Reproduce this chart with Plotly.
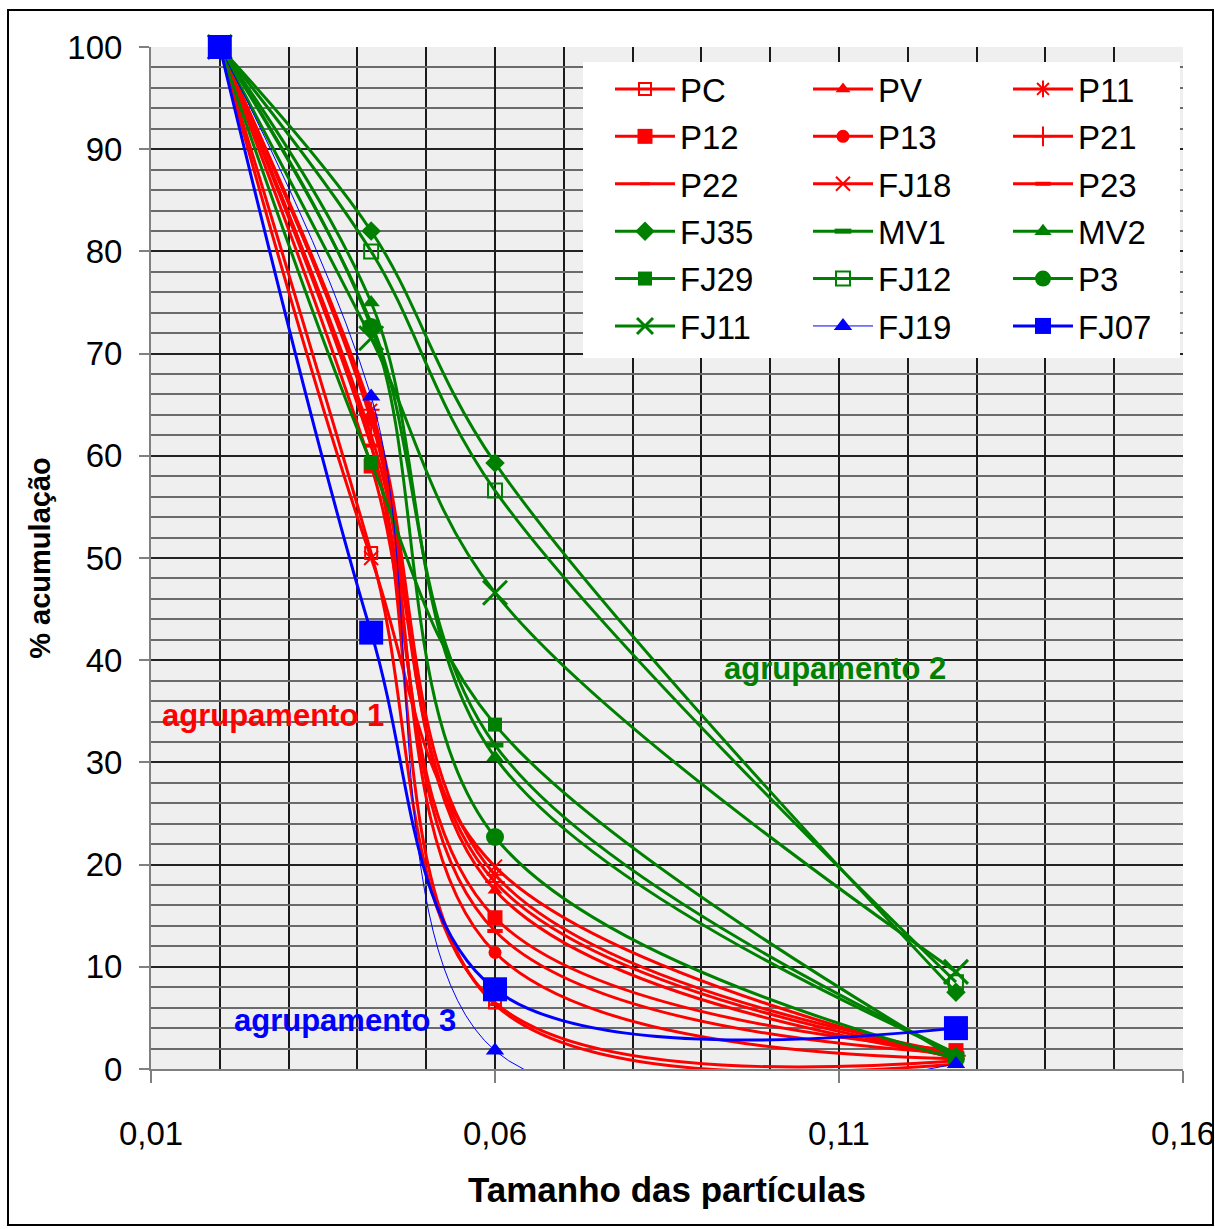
import plotly.graph_objects as go

# ---- data ----
x_sizes = [0.02, 0.042, 0.06, 0.127]

names = ["PC", "PV", "P11", "P12", "P13", "P21", "P22", "FJ18", "P23",
         "FJ35", "MV1", "MV2", "FJ29", "FJ12", "P3", "FJ11", "FJ19", "FJ07"]

PC = [100, 50.5, 6.5, 0.8]
PV = [100, 64.0, 17.5, 1.2]
P11 = [100, 64.5, 19.0, 1.5]
P12 = [100, 59.0, 14.8, 1.8]
P13 = [100, 63.5, 11.4, 1.0]
P21 = [100, 62.0, 18.3, 1.3]
P22 = [100, 61.0, 6.3, 0.5]
FJ18 = [100, 50.0, 19.8, 1.0]
P23 = [100, 61.0, 13.5, 1.5]
FJ35 = [100, 82.0, 59.3, 7.5]
MV1 = [100, 73.0, 31.7, 1.5]
MV2 = [100, 75.0, 30.5, 1.5]
FJ29 = [100, 59.3, 33.7, 1.0]
FJ12 = [100, 80.0, 56.6, 8.5]
P3 = [100, 72.6, 22.7, 1.0]
FJ11 = [100, 71.5, 46.6, 9.5]
FJ19 = [100, 65.8, 1.8, 0.5]
FJ07 = [100, 42.7, 7.8, 4.0]

values = [PC, PV, P11, P12, P13, P21, P22, FJ18, P23,
          FJ35, MV1, MV2, FJ29, FJ12, P3, FJ11, FJ19, FJ07]

x_ticks = [0.01, 0.06, 0.11, 0.16]
x_tick_labels = ["0,01", "0,06", "0,11", "0,16"]

# ---- styles ----
RED, GREEN, BLUE = "#ff0000", "#008000", "#0000ff"
styles = {
    "PC":   dict(color=RED, symbol="square-open", size=12, lw=3, mlw=2),
    "PV":   dict(color=RED, symbol="triangle-up", size=13, lw=3, mlw=0),
    "P11":  dict(color=RED, symbol="asterisk-open", size=14, lw=3, mlw=2),
    "P12":  dict(color=RED, symbol="square", size=15, lw=3, mlw=0),
    "P13":  dict(color=RED, symbol="circle", size=13, lw=3, mlw=0),
    "P21":  dict(color=RED, symbol="cross-thin-open", size=14, lw=3, mlw=2),
    "P22":  dict(color=RED, symbol="line-ew-open", size=7, lw=3, mlw=3),
    "FJ18": dict(color=RED, symbol="x-thin-open", size=14, lw=3, mlw=2),
    "P23":  dict(color=RED, symbol="line-ew-open", size=11, lw=3, mlw=4),
    "FJ35": dict(color=GREEN, symbol="diamond", size=15, lw=3, mlw=0),
    "MV1":  dict(color=GREEN, symbol="line-ew-open", size=12, lw=3, mlw=5),
    "MV2":  dict(color=GREEN, symbol="triangle-up", size=15, lw=3, mlw=0),
    "FJ29": dict(color=GREEN, symbol="square", size=14, lw=3, mlw=0),
    "FJ12": dict(color=GREEN, symbol="square-open", size=14, lw=3, mlw=2),
    "P3":   dict(color=GREEN, symbol="circle", size=18, lw=3, mlw=0),
    "FJ11": dict(color=GREEN, symbol="x-thin-open", size=24, lw=3, mlw=3),
    "FJ19": dict(color=BLUE, symbol="triangle-up", size=16, lw=1, mlw=0),
    "FJ07": dict(color=BLUE, symbol="square", size=24, lw=3, mlw=0),
}

# legend columns (row-wise order of the original legend)
col_of = {}
for i, n in enumerate(names):
    col_of[n] = ["legend", "legend2", "legend3"][i % 3]

fig = go.Figure()
for n, v in zip(names, values):
    s = styles[n]
    fig.add_trace(go.Scatter(
        x=x_sizes, y=v, name=n, mode="lines+markers",
        line=dict(color=s["color"], width=s["lw"], shape="spline", smoothing=1.0),
        marker=dict(symbol=s["symbol"], size=s["size"], color=s["color"],
                    line=dict(color=s["color"], width=s["mlw"])),
        cliponaxis=False, legend=col_of[n], legendgroup=n,
    ))

W, H = 1215, 1229
L, R, T, B = 151, 32, 47, 160
pw, ph = W - L - R, H - T - B

def px(xp):
    return (xp - L) / pw

def py(yp):
    return (H - B - yp) / ph

TICKFONT = dict(family="Liberation Sans Narrow, Arial Narrow, Liberation Sans, Arial", size=33, color="black")
LEGFONT = dict(family="Liberation Sans Narrow, Arial Narrow, Liberation Sans, Arial", size=33, color="black")

leg_common = dict(bgcolor="rgba(0,0,0,0)", font=LEGFONT, xanchor="left", yanchor="top",
                  tracegroupgap=1.5, itemsizing="trace", orientation="v", itemwidth=60)

fig.update_layout(
    width=W, height=H, autosize=False,
    margin=dict(l=L, r=R, t=T, b=B, autoexpand=False),
    paper_bgcolor="white", plot_bgcolor="#efefef",
    separators=",.",
    showlegend=True,
    legend=dict(x=px(610), y=py(61), **leg_common),
    legend2=dict(x=px(808), y=py(61), **leg_common),
    legend3=dict(x=px(1008), y=py(61), **leg_common),
    xaxis=dict(range=[0.01, 0.16], tickvals=x_ticks, ticktext=x_tick_labels,
               automargin=False,
               showgrid=True, gridcolor="#1a1a1a", gridwidth=1.5,
               minor=dict(dtick=0.01, tick0=0.01, showgrid=True, gridcolor="#1a1a1a", gridwidth=1.5),
               showline=True, linecolor="#808080", linewidth=2,
               ticks="outside", ticklen=12, tickcolor="#808080", tickwidth=2,
               tickfont=TICKFONT, ticklabelstandoff=22, ticklabeloverflow="allow",
               zeroline=False,
               title=dict(text="<b>Tamanho das partículas</b>",
                          font=dict(family="Liberation Sans Narrow, Arial Narrow, Liberation Sans, Arial", size=35, color="black"),
                          standoff=27)),
    yaxis=dict(range=[0, 100], dtick=10, tick0=0,
               automargin=False,
               showgrid=True, gridcolor="#222222", gridwidth=2,
               minor=dict(dtick=2, tick0=0, showgrid=True, gridcolor="#6a6a6a", gridwidth=2),
               showline=True, linecolor="#808080", linewidth=2,
               ticks="outside", ticklen=10, tickcolor="#808080", tickwidth=2,
               tickfont=TICKFONT, ticklabelstandoff=10, zeroline=False,
               title=dict(text="<b>% acumulação</b>",
                          font=dict(family="Liberation Sans, Arial", size=29, color="black"),
                          standoff=8)),
)

# white legend box (drawn above the data lines) and outer frame
fig.add_shape(type="rect", xref="paper", yref="paper",
              x0=px(583), x1=px(1180), y0=py(358), y1=py(62),
              fillcolor="white", line=dict(width=0), layer="above")
fig.add_shape(type="rect", xref="paper", yref="paper",
              x0=px(8), x1=px(1213), y0=py(1225), y1=py(10),
              fillcolor="rgba(0,0,0,0)", line=dict(color="black", width=2), layer="above")

ANN_FONT = "Liberation Sans, Arial"
fig.add_annotation(x=0.0113, y=34.6, xref="x", yref="y", text="<b>agrupamento 1</b>",
                   showarrow=False, xanchor="left", yanchor="middle",
                   font=dict(family=ANN_FONT, size=31, color=RED))
fig.add_annotation(x=0.093, y=39.2, xref="x", yref="y", text="<b>agrupamento 2</b>",
                   showarrow=False, xanchor="left", yanchor="middle",
                   font=dict(family=ANN_FONT, size=31, color=GREEN))
fig.add_annotation(x=0.0218, y=4.7, xref="x", yref="y", text="<b>agrupamento 3</b>",
                   showarrow=False, xanchor="left", yanchor="middle",
                   font=dict(family=ANN_FONT, size=31, color=BLUE))

fig.write_html("out.html", config={"displayModeBar": False},
               post_script="document.body.style.margin='0';document.body.style.overflow='hidden';")
